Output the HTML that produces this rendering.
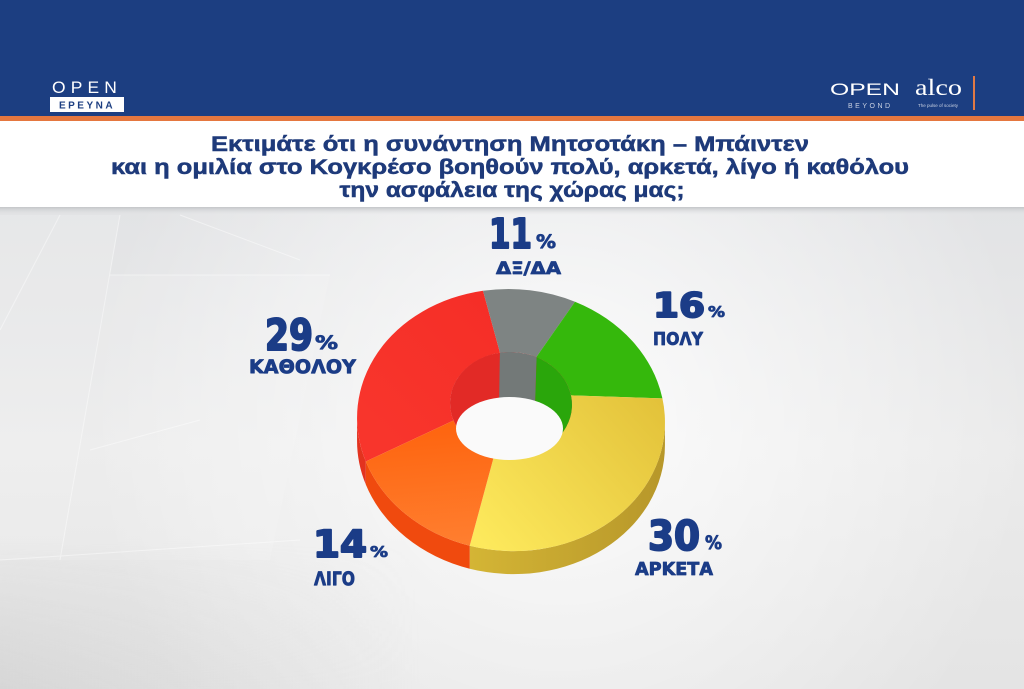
<!DOCTYPE html>
<html><head><meta charset="utf-8"><style>
html,body{margin:0;padding:0;background:#fff;}
svg{display:block;}
</style></head><body>
<svg width="1024" height="689" viewBox="0 0 1024 689" xmlns="http://www.w3.org/2000/svg">
<defs>
  <linearGradient id="bg" x1="0" y1="0" x2="0" y2="1">
    <stop offset="0" stop-color="#e2e3e5"/>
    <stop offset="0.5" stop-color="#ebebeb"/>
    <stop offset="1" stop-color="#e4e4e4"/>
  </linearGradient>
  <radialGradient id="glow" cx="560" cy="420" r="470" gradientUnits="userSpaceOnUse">
    <stop offset="0" stop-color="#ffffff" stop-opacity="0.85"/>
    <stop offset="0.6" stop-color="#ffffff" stop-opacity="0.35"/>
    <stop offset="1" stop-color="#ffffff" stop-opacity="0"/>
  </radialGradient>
  <linearGradient id="botleft" x1="0" y1="0" x2="1" y2="0">
    <stop offset="0" stop-color="#c9c9c9" stop-opacity="0.5"/>
    <stop offset="1" stop-color="#d6d6d6" stop-opacity="0"/>
  </linearGradient>
  <linearGradient id="botfade" x1="0" y1="0" x2="0" y2="1">
    <stop offset="0" stop-color="#ffffff" stop-opacity="0"/>
    <stop offset="1" stop-color="#ffffff" stop-opacity="1"/>
  </linearGradient>
  <mask id="bm"><rect x="0" y="540" width="420" height="149" fill="url(#botfade)"/></mask>
  <linearGradient id="shadowTop" x1="0" y1="0" x2="0" y2="1">
    <stop offset="0" stop-color="#c4c6c9"/>
    <stop offset="1" stop-color="#e2e3e5" stop-opacity="0"/>
  </linearGradient>
  <linearGradient id="yellowTop" x1="480" y1="540" x2="650" y2="390" gradientUnits="userSpaceOnUse">
    <stop offset="0" stop-color="#fde95c"/>
    <stop offset="1" stop-color="#e3c23a"/>
  </linearGradient>
  <linearGradient id="orangeTop" x1="420" y1="430" x2="430" y2="550" gradientUnits="userSpaceOnUse">
    <stop offset="0" stop-color="#fe6510"/>
    <stop offset="1" stop-color="#ff7f30"/>
  </linearGradient>
  <linearGradient id="redTop" x1="370" y1="420" x2="490" y2="300" gradientUnits="userSpaceOnUse">
    <stop offset="0" stop-color="#f8352c"/>
    <stop offset="1" stop-color="#f52e27"/>
  </linearGradient>
  <linearGradient id="yellowSide" x1="470" y1="0" x2="665" y2="0" gradientUnits="userSpaceOnUse">
    <stop offset="0" stop-color="#d4b535"/>
    <stop offset="1" stop-color="#b7972a"/>
  </linearGradient>
  <clipPath id="rim"><ellipse cx="511" cy="404" rx="61" ry="52" transform="rotate(3 511 404)"/></clipPath>
</defs>

<!-- banner -->
<rect x="0" y="0" width="1024" height="118" fill="#1c3e81"/>
<rect x="0" y="116" width="1024" height="5" fill="#e5773f"/>
<!-- title area -->
<rect x="0" y="121" width="1024" height="86" fill="#ffffff"/>
<!-- chart background -->
<rect x="0" y="207" width="1024" height="482" fill="url(#bg)"/>
<rect x="0" y="207" width="1024" height="482" fill="url(#glow)"/>
<rect x="0" y="207" width="1024" height="8" fill="url(#shadowTop)"/>
<polygon points="0,215 120,215 60,560 0,560" fill="#ffffff" opacity="0.15"/>
<polygon points="110,275 330,275 270,560 60,560" fill="#ffffff" opacity="0.12"/>
<rect x="0" y="540" width="420" height="149" fill="url(#botleft)" mask="url(#bm)"/>
<g stroke="#ffffff" stroke-width="1" opacity="0.45" fill="none">
  <line x1="0" y1="330" x2="60" y2="215"/>
  <line x1="120" y1="215" x2="60" y2="560"/>
  <line x1="110" y1="275" x2="330" y2="275"/>
  <line x1="0" y1="560" x2="300" y2="540"/>
  <line x1="180" y1="215" x2="300" y2="260"/>
  <line x1="90" y1="450" x2="200" y2="420"/>
</g>

<!-- logos left -->
<text x="52" y="93" font-family="Liberation Sans, sans-serif" font-size="17" fill="#ffffff" letter-spacing="5" textLength="70" lengthAdjust="spacingAndGlyphs">OPEN</text>
<rect x="50" y="97" width="74" height="15" fill="#ffffff"/>
<text x="87" y="108.5" text-anchor="middle" font-family="Liberation Sans, sans-serif" font-weight="bold" font-size="10" fill="#1c3e81" letter-spacing="2.5">ΕΡΕΥΝΑ</text>
<!-- logos right -->
<text x="830" y="95" font-family="Liberation Sans, sans-serif" font-size="17" fill="#ffffff" textLength="70" lengthAdjust="spacingAndGlyphs">OPEN</text>
<text x="848" y="108" font-family="Liberation Sans, sans-serif" font-size="7" fill="#c9d1e2" letter-spacing="2.5">BEYOND</text>
<text x="915" y="95" font-family="Liberation Serif, serif" font-size="23" fill="#ffffff" textLength="47" lengthAdjust="spacingAndGlyphs">alco</text>
<text x="918" y="107" font-family="Liberation Sans, sans-serif" font-size="4.5" fill="#c9d1e2">The pulse of society</text>
<rect x="973" y="76" width="2" height="34" fill="#e07a45"/>

<!-- title -->
<g font-family="Liberation Sans, sans-serif" font-weight="bold" font-size="21" fill="#1e3a7a" stroke="#1e3a7a" stroke-width="0.5" text-anchor="middle">
  <text x="510" y="151" textLength="598" lengthAdjust="spacingAndGlyphs">Εκτιμάτε ότι η συνάντηση Μητσοτάκη – Μπάιντεν</text>
  <text x="510" y="174" textLength="798" lengthAdjust="spacingAndGlyphs">και η ομιλία στο Κογκρέσο βοηθούν πολύ, αρκετά, λίγο ή καθόλου</text>
  <text x="512" y="197" textLength="345" lengthAdjust="spacingAndGlyphs">την ασφάλεια της χώρας μας;</text>
</g>

<!-- donut sides -->
<path d="M664.95,422.3 A154 131 3 0 1 469.7,545.7 L469.7,568.7 A154 131 3 0 0 664.95,445.3 Z" fill="url(#yellowSide)"/>
<path d="M469.7,545.7 A154 131 3 0 1 365.8,461.5 L365.8,484.5 A154 131 3 0 0 469.7,568.7 Z" fill="#f04a0e"/>
<path d="M365.8,461.5 A154 131 3 0 1 357.05,417.7 L357.05,440.7 A154 131 3 0 0 365.8,484.5 Z" fill="#e3331f"/>

<!-- donut top -->
<path d="M365.8,461.5 A154 131 3 0 1 483.0,290.8 L500.0,352.8 A61 52 3 0 0 453.5,420.5 Z" fill="url(#redTop)"/>
<path d="M483.0,290.8 A154 131 3 0 1 575.0,301.7 L536.3,357.1 A61 52 3 0 0 500.0,352.8 Z" fill="#7e8483"/>
<path d="M575.0,301.7 A154 131 3 0 1 662.4,398.4 L570.9,395.4 A61 52 3 0 0 536.3,357.1 Z" fill="#35b80c"/>
<path d="M662.4,398.4 A154 131 3 0 1 469.7,545.7 L494.6,453.9 A61 52 3 0 0 570.9,395.4 Z" fill="url(#yellowTop)"/>
<path d="M469.7,545.7 A154 131 3 0 1 365.8,461.5 L453.5,420.5 A61 52 3 0 0 494.6,453.9 Z" fill="url(#orangeTop)"/>

<!-- inner wall -->
<g clip-path="url(#rim)">
  <rect x="440" y="340" width="150" height="130" fill="#e22a26"/>
  <polygon points="500,345 537,345 533,470 498,470" fill="#737978"/>
  <polygon points="537,345 600,345 600,470 533,470" fill="#2aa60b"/>
  <polygon points="440,420 455,428 460,470 440,470" fill="#f2600f"/>
</g>
<!-- hole -->
<ellipse cx="509.5" cy="428.5" rx="53.5" ry="31.5" fill="#fafafa"/>

<!-- labels -->
<g font-family="DejaVu Sans, Liberation Sans, sans-serif" font-weight="bold" fill="#1b3c87" stroke="#1b3c87" stroke-linejoin="round">
  <text x="489" y="248" font-size="41" stroke-width="2" textLength="43" lengthAdjust="spacingAndGlyphs">11</text>
  <text x="536" y="248" font-size="19" stroke-width="0.8" textLength="20" lengthAdjust="spacingAndGlyphs">%</text>
  <text x="496" y="274" font-size="17" stroke-width="0.8" textLength="65" lengthAdjust="spacingAndGlyphs">ΔΞ/ΔΑ</text>

  <text x="653" y="317" font-size="34" stroke-width="2" textLength="52" lengthAdjust="spacingAndGlyphs">16</text>
  <text x="708" y="317" font-size="15" stroke-width="0.8" textLength="17" lengthAdjust="spacingAndGlyphs">%</text>
  <text x="653" y="345" font-size="18" stroke-width="0.8" textLength="50" lengthAdjust="spacingAndGlyphs">ΠΟΛΥ</text>

  <text x="265" y="350" font-size="43" stroke-width="2" textLength="48" lengthAdjust="spacingAndGlyphs">29</text>
  <text x="315" y="349" font-size="19" stroke-width="0.8" textLength="23" lengthAdjust="spacingAndGlyphs">%</text>
  <text x="249" y="373" font-size="19" stroke-width="0.8" textLength="107" lengthAdjust="spacingAndGlyphs">ΚΑΘΟΛΟΥ</text>

  <text x="313" y="557" font-size="37" stroke-width="2" textLength="54" lengthAdjust="spacingAndGlyphs">14</text>
  <text x="370" y="557" font-size="15" stroke-width="0.8" textLength="18" lengthAdjust="spacingAndGlyphs">%</text>
  <text x="314" y="585" font-size="19" stroke-width="0.8" textLength="41" lengthAdjust="spacingAndGlyphs">ΛΙΓΟ</text>

  <text x="648" y="550" font-size="41" stroke-width="2" textLength="52" lengthAdjust="spacingAndGlyphs">30</text>
  <text x="705" y="549" font-size="19" stroke-width="0.8" textLength="17" lengthAdjust="spacingAndGlyphs">%</text>
  <text x="635" y="575" font-size="18" stroke-width="0.8" textLength="78" lengthAdjust="spacingAndGlyphs">ΑΡΚΕΤΑ</text>
</g>
</svg>
</body></html>
